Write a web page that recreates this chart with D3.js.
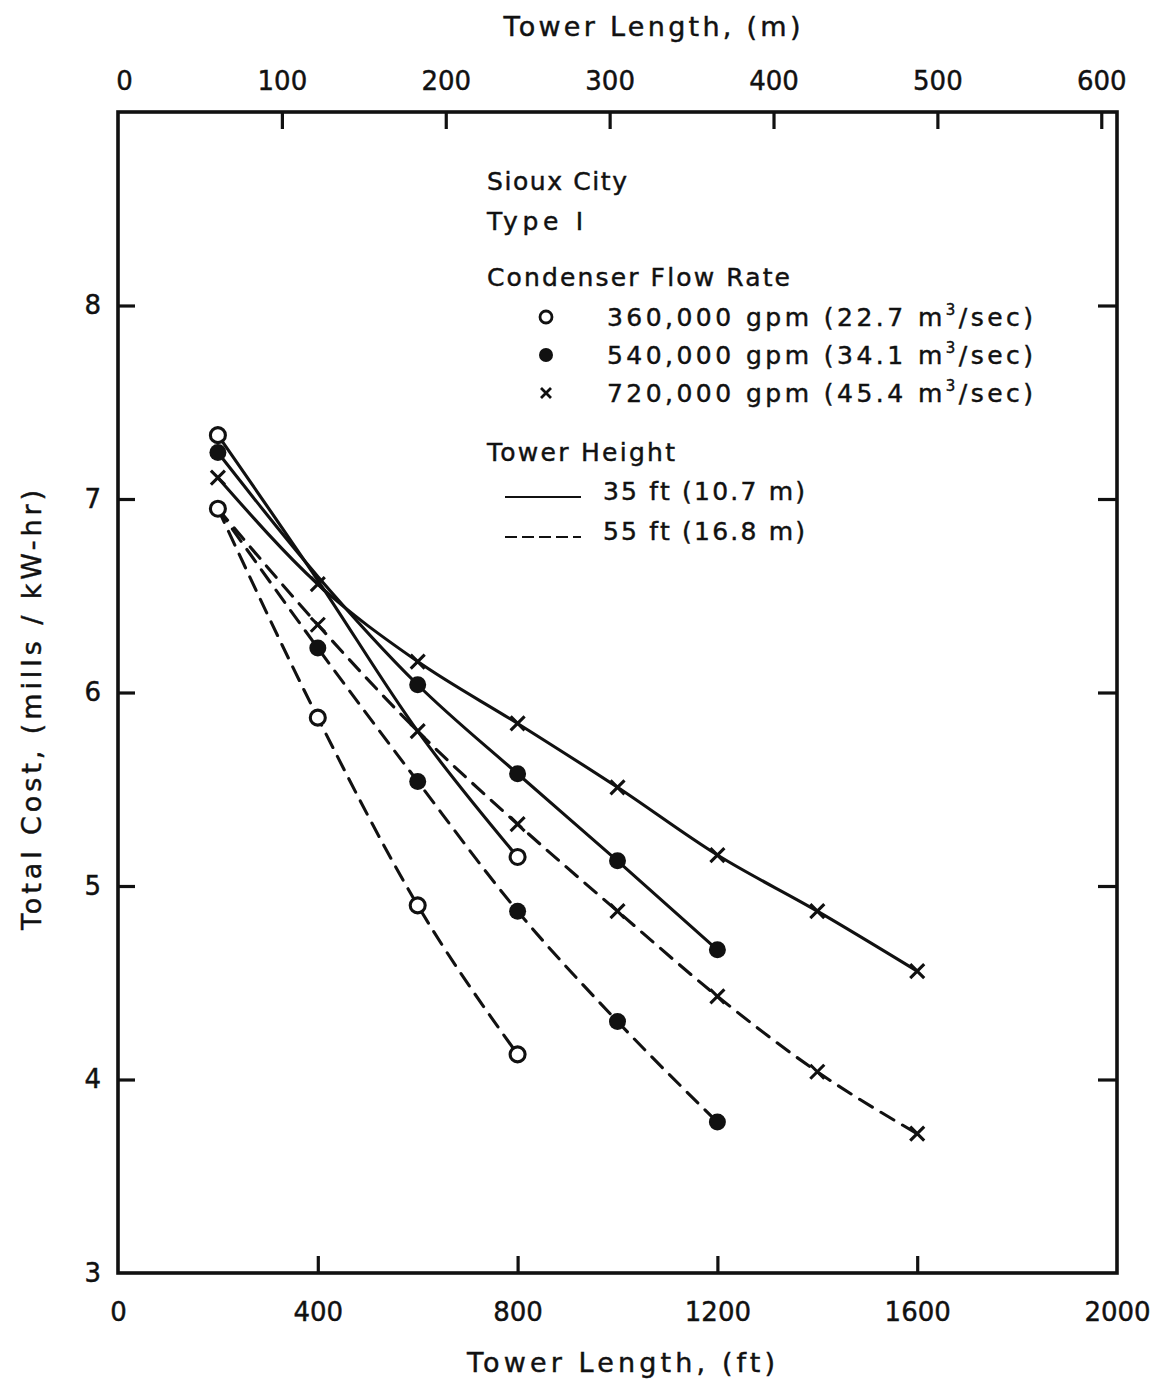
<!DOCTYPE html>
<html>
<head>
<meta charset="utf-8">
<script src="https://cdn.jsdelivr.net/npm/d3@7"></script>
<style>
  body { margin: 0; background: #fff; }
  svg { display: block; }
  text { font-family: "DejaVu Sans", sans-serif; fill: #111; stroke: #111; stroke-width: 0.45px; }
</style>
</head>
<body>
<svg id="chart" width="1165" height="1380"></svg>
<script>
// Tower length (ft) at which each cost was evaluated
const lengthFt = [200, 400, 600, 800, 1000, 1200, 1400, 1600];

// Axis ticks
const ftTicks = [0, 400, 800, 1200, 1600, 2000];
const meterTicks = [0, 100, 200, 300, 400, 500, 600];
const costTicks = [3, 4, 5, 6, 7, 8];

// Total cost (mills/kW-hr), 35 ft tower height
const cost360Low = [7.33, 6.58, 5.80, 5.15];
const cost540Low = [7.24, 6.60, 6.04, 5.58, 5.13, 4.67];
const cost720Low = [7.11, 6.56, 6.16, 5.84, 5.51, 5.16, 4.87, 4.56];
// Total cost (mills/kW-hr), 55 ft tower height
const cost360High = [6.95, 5.87, 4.90, 4.13];
const cost540High = [6.95, 6.23, 5.54, 4.87, 4.30, 3.78];
const cost720High = [6.95, 6.35, 5.80, 5.32, 4.87, 4.43, 4.04, 3.72];

// Which points of each curve carry a plotted symbol
const marks360Low = [true, false, false, true];
const marks540Low = [true, false, true, true, true, true];
const marks720Low = [true, true, true, true, true, true, true, true];
const marks360High = [true, true, true, true];
const marks540High = [false, true, true, true, true, true];
const marks720High = [false, true, true, true, true, true, true, true];

// Legend text
const flowSymbols = ["open", "filled", "cross"];
const flowGpm = ["360,000", "540,000", "720,000"];
const flowM3 = ["22.7", "34.1", "45.4"];
const heightLabels = ["35 ft (10.7 m)", "55 ft (16.8 m)"];
const FT_PER_M = 3.28084;

const series = [
  { values: cost360Low,  marks: marks360Low,  symbol: "open",   dashed: false },
  { values: cost540Low,  marks: marks540Low,  symbol: "filled", dashed: false },
  { values: cost720Low,  marks: marks720Low,  symbol: "cross",  dashed: false },
  { values: cost360High, marks: marks360High, symbol: "open",   dashed: true },
  { values: cost540High, marks: marks540High, symbol: "filled", dashed: true },
  { values: cost720High, marks: marks720High, symbol: "cross",  dashed: true }
];

const svg = d3.select("#chart");
const ink = "#111";

const x = d3.scaleLinear().domain([0, 2000]).range([118, 1117]);
const xm = d3.scaleLinear().domain([0, 2000 / FT_PER_M]).range([118, 1117]);
const y = d3.scaleLinear().domain([3, 9]).range([1273, 112]);

function txt(g, px, py, str, size, anchor, len) {
  const t = g.append("text")
    .attr("x", px).attr("y", py)
    .attr("font-size", size)
    .attr("text-anchor", anchor || "start")
    .text(str);
  if (len) t.attr("textLength", len).attr("lengthAdjust", "spacing");
  return t;
}

// Frame
svg.append("rect")
  .attr("x", x(0)).attr("y", y(9))
  .attr("width", x(2000) - x(0)).attr("height", y(3) - y(9))
  .attr("fill", "none").attr("stroke", ink).attr("stroke-width", 3.6);

function styleTicks(g) {
  g.select(".domain").remove();
  g.selectAll(".tick line").attr("stroke", ink).attr("stroke-width", 3.2);
  g.selectAll(".tick text").attr("font-size", 26).attr("font-family", "DejaVu Sans").attr("fill", ink);
}

// Bottom axis (ft), ticks point inward
const bottomAxis = d3.axisBottom(x).tickValues(ftTicks).tickSizeInner(-17).tickSizeOuter(0).tickPadding(30)
  .tickFormat(d3.format("d"));
const gb = svg.append("g").attr("transform", `translate(0,${y(3)})`).call(bottomAxis);
styleTicks(gb);
gb.selectAll(".tick line").filter(d => d === 0 || d === 2000).remove();

// Top axis (m), ticks point inward
const topAxis = d3.axisTop(xm).tickValues(meterTicks).tickSizeInner(-17).tickSizeOuter(0).tickPadding(22)
  .tickFormat(d3.format("d"));
const gt = svg.append("g").attr("transform", `translate(0,${y(9)})`).call(topAxis);
styleTicks(gt);
gt.selectAll(".tick line").filter(d => d === 0).remove();
gt.selectAll(".tick text").filter(d => d === 0).attr("dx", 6);

// Left axis (cost), ticks point inward
const leftAxis = d3.axisLeft(y).tickValues(costTicks).tickSizeInner(-17).tickSizeOuter(0).tickPadding(17)
  .tickFormat(d3.format("d"));
const gl = svg.append("g").attr("transform", `translate(${x(0)},0)`).call(leftAxis);
styleTicks(gl);
gl.selectAll(".tick line").filter(d => d === 3).remove();

// Right axis ticks, no labels
const rightAxis = d3.axisRight(y).tickValues(costTicks.filter(d => d > 3)).tickSizeInner(-19).tickSizeOuter(0)
  .tickFormat("");
const gr = svg.append("g").attr("transform", `translate(${x(2000)},0)`).call(rightAxis);
styleTicks(gr);

// Axis titles
txt(svg, 652, 36, "Tower Length, (m)", 27, "middle", 297);
txt(svg, 621, 1372, "Tower Length, (ft)", 27, "middle", 308);
txt(svg, 0, 0, "Total Cost, (mills / kW-hr)", 27, "middle", 440)
  .attr("transform", "translate(41,710) rotate(-90)");

// Curves
const line = d3.line()
  .x(d => x(d[0]))
  .y(d => y(d[1]))
  .curve(d3.curveMonotoneX);

const plot = svg.append("g");
series.forEach(s => {
  const pts = s.values.map((v, i) => [lengthFt[i], v]);
  plot.append("path")
    .attr("d", line(pts))
    .attr("fill", "none")
    .attr("stroke", ink)
    .attr("stroke-width", 3.1)
    .attr("stroke-linecap", "round")
    .attr("stroke-dasharray", s.dashed ? "15 10" : null);
});

function drawSymbol(g, kind, cx, cy, r, w) {
  if (kind === "open") {
    g.append("circle").attr("cx", cx).attr("cy", cy).attr("r", r)
      .attr("fill", "#fff").attr("stroke", ink).attr("stroke-width", w);
  } else if (kind === "filled") {
    g.append("circle").attr("cx", cx).attr("cy", cy).attr("r", r + 1)
      .attr("fill", ink);
  } else {
    const a = r;
    g.append("path")
      .attr("d", `M${cx - a},${cy - a}L${cx + a},${cy + a}M${cx - a},${cy + a}L${cx + a},${cy - a}`)
      .attr("stroke", ink).attr("stroke-width", w).attr("fill", "none");
  }
}

series.forEach(s => {
  s.values.forEach((v, i) => {
    if (s.marks[i]) drawSymbol(plot, s.symbol, x(lengthFt[i]), y(v), s.symbol === "cross" ? 7 : 7.5, 3.1);
  });
});

// Legend
const lg = svg.append("g");
txt(lg, 487, 190, "Sioux City", 25, "start", 140);
txt(lg, 487, 230, "Type I", 25, "start", 96);
txt(lg, 487, 286, "Condenser Flow Rate", 25, "start", 303);
const flowY = [317, 355, 393];
flowGpm.forEach((g, i) => {
  drawSymbol(lg, flowSymbols[i], 546, flowY[i], flowSymbols[i] === "cross" ? 5 : 6, 2.8);
  const t = lg.append("text").attr("x", 607).attr("y", flowY[i] + 9).attr("font-size", 25)
    .attr("textLength", 426).attr("lengthAdjust", "spacing");
  t.append("tspan").text(`${g} gpm (${flowM3[i]} m`);
  t.append("tspan").attr("font-size", 15).attr("dy", -11).text("3");
  t.append("tspan").attr("dy", 11).text("/sec)");
});
txt(lg, 487, 461, "Tower Height", 25, "start", 188);
const heightY = [497, 537];
heightLabels.forEach((h, i) => {
  lg.append("line").attr("x1", 505).attr("x2", 581).attr("y1", heightY[i]).attr("y2", heightY[i])
    .attr("stroke", ink).attr("stroke-width", 1.8)
    .attr("stroke-dasharray", i === 1 ? "12 5" : null);
  txt(lg, 603, heightY[i] + 3, h, 25, "start", 202);
});
</script>
</body>
</html>
